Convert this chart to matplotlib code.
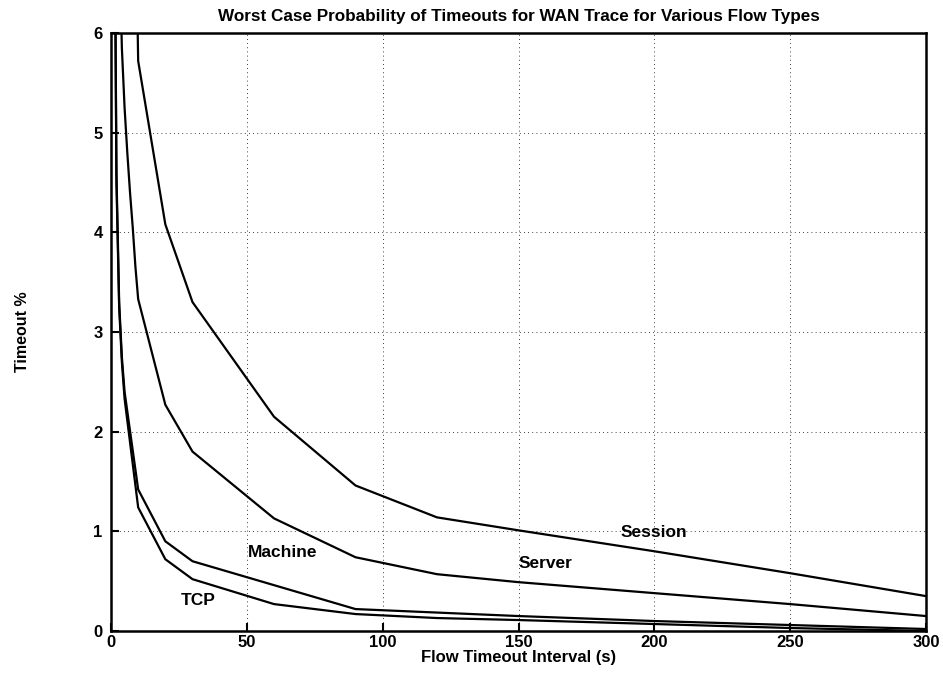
import matplotlib
matplotlib.use("Agg")
import matplotlib.pyplot as plt

plt.rcParams['font.family'] = ['Liberation Sans', 'DejaVu Sans']
plt.rcParams['font.weight'] = 'bold'

x_session = [5, 10, 20, 30, 60, 90, 120, 150, 200, 250, 300]
y_session = [14.0, 5.72, 4.08, 3.3, 2.15, 1.46, 1.14, 1.01, 0.80, 0.58, 0.35]

x_server = [1, 2, 3, 4, 5, 6, 7, 8, 9, 10, 20, 30, 60, 90, 120, 150, 200, 250, 300]
y_server = [15.0, 9.5, 7.0, 5.85, 5.25, 4.8, 4.4, 4.05, 3.65, 3.33, 2.27, 1.8, 1.13, 0.74, 0.57, 0.49, 0.38, 0.27, 0.15]

x_machine = [1, 2, 3, 4, 5, 10, 20, 30, 90, 150, 200, 250, 300]
y_machine = [9.0, 4.6, 3.3, 2.75, 2.4, 1.42, 0.9, 0.7, 0.22, 0.15, 0.10, 0.06, 0.02]

x_tcp = [1, 2, 3, 4, 5, 10, 20, 30, 60, 90, 120, 150, 200, 250, 300]
y_tcp = [8.8, 4.5, 3.25, 2.7, 2.33, 1.24, 0.72, 0.52, 0.27, 0.17, 0.13, 0.11, 0.07, 0.03, 0.0]

labels = ["Session", "Server", "Machine", "TCP"]
label_x = [200, 160, 63, 32]
label_y = [0.99, 0.68, 0.79, 0.31]

title = "Worst Case Probability of Timeouts for WAN Trace for Various Flow Types"
xlabel = "Flow Timeout Interval (s)"
ylabel = "Timeout %"

fig = plt.figure(figsize=(9.43, 6.79), dpi=100)
ax = fig.add_axes([111 / 943, 1 - 631 / 679, 815 / 943, 598 / 679])

for xs, ys in [(x_session, y_session), (x_server, y_server),
               (x_machine, y_machine), (x_tcp, y_tcp)]:
    ax.plot(xs, ys, color='black', lw=1.6, solid_joinstyle='miter')

for t, lx, ly in zip(labels, label_x, label_y):
    ax.text(lx, ly, t, ha='center', va='center', fontsize=12.5, fontweight='bold')

ax.set_xlim(0, 300)
ax.set_ylim(0, 6)
ax.set_xticks([0, 50, 100, 150, 200, 250, 300])
ax.set_yticks([0, 1, 2, 3, 4, 5, 6])
ax.grid(True, linestyle=(0, (1, 4)), color='black', lw=0.6)
ax.tick_params(direction='in', length=6, width=1.5, labelsize=12, top=False, right=False)
ax.tick_params(axis='x', pad=3)
ax.tick_params(axis='y', pad=6)
for lab in ax.get_xticklabels() + ax.get_yticklabels():
    lab.set_fontweight('bold')
for s in ax.spines.values():
    s.set_linewidth(1.8)

ax.set_title(title, fontsize=12.3, fontweight='bold', pad=9)
ax.set_xlabel(xlabel, fontsize=12, fontweight='bold', labelpad=0)
ax.set_ylabel(ylabel, fontsize=11.5, fontweight='bold', labelpad=46)

fig.savefig("out.png", dpi=100)
